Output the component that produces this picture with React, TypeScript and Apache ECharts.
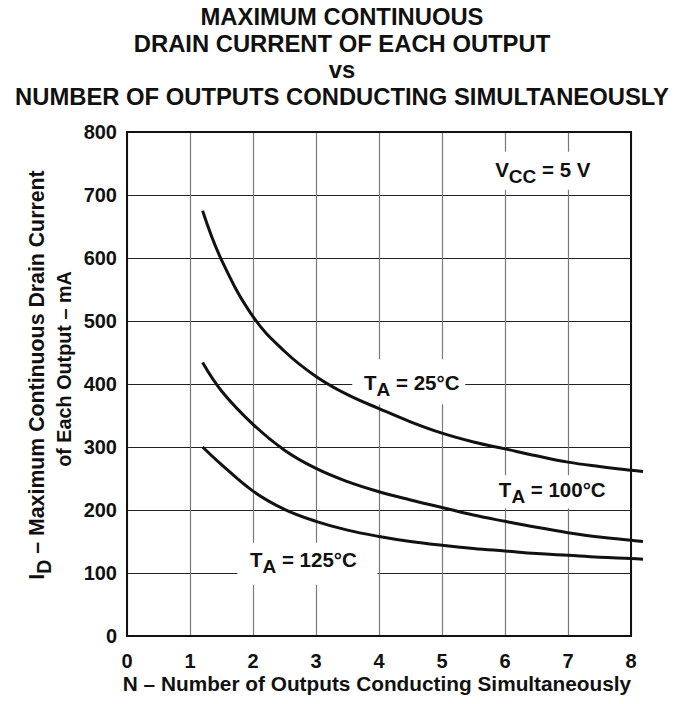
import React, { useEffect, useRef } from "react";
import * as echarts from "echarts";

const FONT = '"Liberation Sans", Arial, Helvetica, sans-serif';
const INK = "#111";

// axis ticks
const xMin = 0;
const xMax = 8;
const xStep = 1;
const yMin = 0;
const yMax = 800;
const yStep = 100;

// curves (N outputs -> mA); the curves run slightly past N = 8, as in the original
const nOutputs = [1.2, 1.5, 2, 2.5, 3, 3.5, 4, 4.5, 5, 5.5, 6, 6.5, 7, 7.5, 8, 8.19];
const i25 = [675, 597, 507, 452, 412, 383, 361, 340, 322, 308, 297, 286, 276, 269, 263, 261];
const i100 = [434, 389, 336, 295, 266, 245, 229, 216, 204, 192, 182, 172.5, 164, 157, 152, 150];
const i125 = [300, 272, 230, 201, 182, 168, 158, 150, 144, 139, 135, 131, 128, 125, 123, 122];

// annotations (anchored in data coordinates)
const labelTexts = [
  "{a|V}{s|CC}{a| = 5 V}",
  "{a|T}{s|A}{a| = 25°C}",
  "{a|T}{s|A}{a| = 100°C}",
  "{a|T}{s|A}{a| = 125°C}",
];
const labelN = [6.6, 4.52, 6.75, 2.8];
const labelI = [740, 402, 232, 121];
// white knock-out boxes around labels: [dx, dy, w, h] in px relative to label centre
const labelBoxes = [
  [1, 1, 108, 38],
  [-3, -1, 113, 45],
  [0, 2, 119, 33],
  [4, 4, 140, 42],
];

const titleLines = [
  "MAXIMUM CONTINUOUS",
  "DRAIN CURRENT OF EACH OUTPUT",
  "vs",
  "NUMBER OF OUTPUTS CONDUCTING SIMULTANEOUSLY",
];
const xTitle = "N – Number of Outputs Conducting Simultaneously";
const yTitle1 = "{b|I}{t|D}{b| – Maximum Continuous Drain Current}";
const yTitle2 = "of Each Output – mA";

const rich = {
  a: { fontSize: 20.5, fontWeight: "bold", fontFamily: FONT, fill: INK, color: INK, lineHeight: 24 },
  s: {
    fontSize: 19,
    fontWeight: "bold",
    fontFamily: FONT,
    fill: INK,
    color: INK,
    lineHeight: 24,
    padding: [14, 0, 0, 0],
  },
  b: { fontSize: 21.3, fontWeight: "bold", fontFamily: FONT, fill: INK, color: INK, lineHeight: 24 },
  t: {
    fontSize: 19.5,
    fontWeight: "bold",
    fontFamily: FONT,
    fill: INK,
    color: INK,
    lineHeight: 24,
    padding: [14, 0, 0, 0],
  },
};

const zip = (xs: number[], ys: number[]) => xs.map((x, i) => [x, ys[i]]);

// layout: plot frame and a wider, hidden twin grid with the same scale so curves may run past the frame
const GRID_LEFT = 127;
const GRID_RIGHT = 59;
const GRID_TOP = 132;
const GRID_BOTTOM = 68;
const PX_PER_N = (690 - GRID_LEFT - GRID_RIGHT) / (xMax - xMin);
const xMaxWide = 8.5;
const GRID2_RIGHT = 690 - GRID_LEFT - PX_PER_N * (xMaxWide - xMin);

export default function App() {
  const ref = useRef<HTMLDivElement>(null);
  useEffect(() => {
    if (!ref.current) return;
    const chart = echarts.init(ref.current, null, { renderer: "svg" });
    const lineSeries = (name: string, xs: number[], ys: number[]) => ({
      name,
      type: "line",
      xAxisIndex: 1,
      yAxisIndex: 1,
      data: zip(xs, ys),
      smooth: 0.4,
      showSymbol: false,
      clip: false,
      z: 5,
      lineStyle: { color: INK, width: 3 },
      silent: true,
    });
    const labelStyle = {
      fontSize: 20,
      fontWeight: "bold",
      fontFamily: FONT,
      color: INK,
    };
    chart.setOption({
      animation: false,
      backgroundColor: "#fff",
      grid: [
        {
          left: GRID_LEFT,
          right: GRID_RIGHT,
          top: GRID_TOP,
          bottom: GRID_BOTTOM,
          show: true,
          borderColor: INK,
          borderWidth: 2,
          backgroundColor: "transparent",
          z: 6,
        },
        {
          left: GRID_LEFT,
          right: GRID2_RIGHT,
          top: GRID_TOP,
          bottom: GRID_BOTTOM,
          show: false,
        },
      ],
      xAxis: [
        {
          type: "value",
          gridIndex: 0,
          min: xMin,
          max: xMax,
          interval: xStep,
          axisLine: { show: false },
          axisTick: { show: false },
          splitLine: { show: true, lineStyle: { color: "#7a7a7a", width: 1.2 } },
          axisLabel: { ...labelStyle, margin: 15 },
        },
        {
          type: "value",
          gridIndex: 1,
          min: xMin,
          max: xMaxWide,
          show: false,
          splitLine: { show: false },
        },
      ],
      yAxis: [
        {
          type: "value",
          gridIndex: 0,
          min: yMin,
          max: yMax,
          interval: yStep,
          axisLine: { show: false },
          axisTick: { show: false },
          splitLine: { show: true, lineStyle: { color: "#222", width: 1.1 } },
          axisLabel: { ...labelStyle, margin: 10 },
        },
        {
          type: "value",
          gridIndex: 1,
          min: yMin,
          max: yMax,
          show: false,
          splitLine: { show: false },
        },
      ],
      series: [
        lineSeries("TA = 25°C", nOutputs, i25),
        lineSeries("TA = 100°C", nOutputs, i100),
        lineSeries("TA = 125°C", nOutputs, i125),
      ],
    });

    const graphics: any[] = [
      {
        type: "text",
        x: 342,
        y: 3,
        z: 10,
        style: {
          text: titleLines.join("\n"),
          font: `bold 23.8px ${FONT}`,
          fill: INK,
          align: "center",
          verticalAlign: "top",
          lineHeight: 26.7,
        },
      },
      {
        type: "text",
        x: 377,
        y: 683,
        z: 10,
        style: {
          text: xTitle,
          font: `bold 20.8px ${FONT}`,
          fill: INK,
          align: "center",
          verticalAlign: "middle",
        },
      },
      {
        type: "text",
        x: 37,
        y: 375,
        rotation: Math.PI / 2,
        z: 10,
        style: {
          text: yTitle1,
          rich,
          fill: INK,
          align: "center",
          verticalAlign: "middle",
        },
      },
      {
        type: "text",
        x: 64,
        y: 369,
        rotation: Math.PI / 2,
        z: 10,
        style: {
          text: yTitle2,
          font: `bold 19.8px ${FONT}`,
          fill: INK,
          align: "center",
          verticalAlign: "middle",
        },
      },
    ];

    labelTexts.forEach((t, i) => {
      const p = chart.convertToPixel({ gridIndex: 0 }, [labelN[i], labelI[i]]) as number[];
      const [dx, dy, w, h] = labelBoxes[i];
      graphics.push({
        type: "rect",
        z: 1,
        shape: { x: p[0] + dx - w / 2, y: p[1] + dy - h / 2, width: w, height: h },
        style: { fill: "#fff" },
      });
      graphics.push({
        type: "text",
        x: p[0],
        y: p[1],
        z: 10,
        style: { text: t, rich, fill: INK, align: "center", verticalAlign: "middle" },
      });
    });

    chart.setOption({ graphic: graphics });
    return () => chart.dispose();
  }, []);

  return (
    <div
      ref={ref}
      style={{ position: "fixed", left: 0, top: 0, width: 690, height: 704, background: "#fff" }}
    />
  );
}
